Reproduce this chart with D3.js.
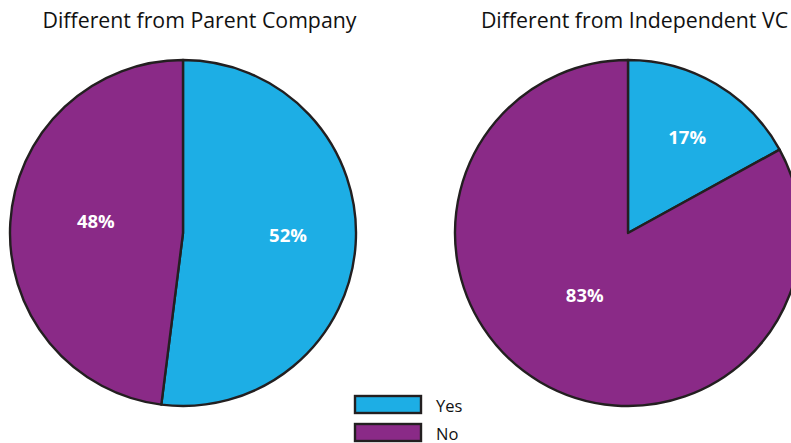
<!DOCTYPE html>
<html>
<head>
<meta charset="utf-8">
<script src="https://cdn.jsdelivr.net/npm/d3@7"></script>
<style>
  html, body { margin: 0; padding: 0; background: #ffffff; }
  svg { display: block; }
  text { font-family: "Open Sans", "Noto Sans", sans-serif; }
</style>
</head>
<body>
<svg id="chart" width="791" height="443"></svg>
<script>
// ---- data ----
const categories = ["Yes", "No"];
const chartTitles = ["Different from Parent Company", "Different from Independent VC"];
const parentCompanyValues = [52, 48];
const independentVCValues = [17, 83];

// ---- styling / layout ----
const colors = ["#1daee5", "#8a2a87"];
const strokeColor = "#231f20";
const radius = 173;
const pieCenters = [[183, 233], [628, 233]];
const titleCenters = [199.5, 634.5];
// label placement: radius from center and angle tweak (deg) relative to slice mid-angle
const labelPlacement = [
  [[105, -2.6], [88, 4.3]],
  [[113, 1.0], [75, 4.6]]
];

const svg = d3.select("#chart");

const pie = d3.pie().sort(null).value(d => d);
const arc = d3.arc().innerRadius(0).outerRadius(radius);

const datasets = [parentCompanyValues, independentVCValues];

datasets.forEach((vals, i) => {
  const [cx, cy] = pieCenters[i];
  const g = svg.append("g").attr("transform", `translate(${cx},${cy})`);
  const arcs = pie(vals);

  g.selectAll("path.slice")
    .data(arcs)
    .join("path")
    .attr("class", "slice")
    .attr("d", arc)
    .attr("fill", (d, j) => colors[j])
    .attr("stroke", strokeColor)
    .attr("stroke-width", 2.4)
    .attr("stroke-linejoin", "round");

  g.selectAll("text.lbl")
    .data(arcs)
    .join("text")
    .attr("class", "lbl")
    .attr("x", (d, j) => {
      const [r, da] = labelPlacement[i][j];
      const a = (d.startAngle + d.endAngle) / 2 + da * Math.PI / 180;
      return r * Math.sin(a);
    })
    .attr("y", (d, j) => {
      const [r, da] = labelPlacement[i][j];
      const a = (d.startAngle + d.endAngle) / 2 + da * Math.PI / 180;
      return -r * Math.cos(a);
    })
    .attr("text-anchor", "middle")
    .attr("dominant-baseline", "central")
    .attr("fill", "#ffffff")
    .attr("font-weight", "bold")
    .attr("font-size", 18.5)
    .text(d => d.data + "%");

  svg.append("text")
    .attr("x", titleCenters[i])
    .attr("y", 28)
    .attr("text-anchor", "middle")
    .attr("font-size", 21.3)
    .attr("fill", "#111111")
    .text(chartTitles[i]);
});

// ---- legend ----
const legend = svg.append("g").attr("transform", "translate(355,396)");
const item = legend.selectAll("g.item")
  .data(categories)
  .join("g")
  .attr("class", "item")
  .attr("transform", (d, i) => `translate(0,${i * 28})`);
item.append("rect")
  .attr("width", 66)
  .attr("height", 17)
  .attr("fill", (d, i) => colors[i])
  .attr("stroke", strokeColor)
  .attr("stroke-width", 2.4);
item.append("text")
  .attr("x", 81)
  .attr("y", 15.5)
  .attr("font-size", 16.5)
  .attr("fill", "#111111")
  .text(d => d);
</script>
</body>
</html>
